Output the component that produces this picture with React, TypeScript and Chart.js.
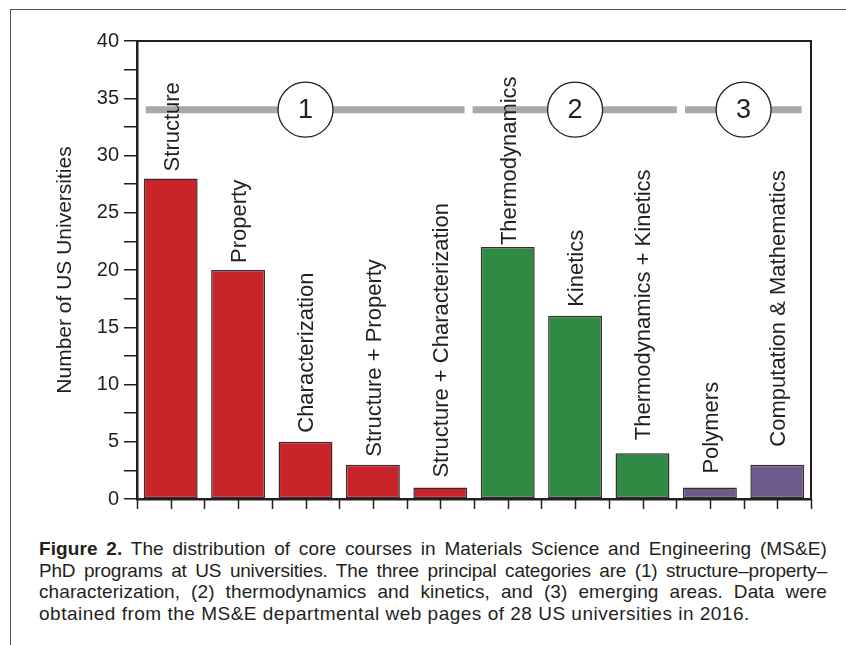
import React, { useEffect, useRef } from 'react';
import { Chart, registerables } from 'chart.js';

Chart.register(...registerables);

// ---- data ----
const categories = [
  'Structure',
  'Property',
  'Characterization',
  'Structure + Property',
  'Structure + Characterization',
  'Thermodynamics',
  'Kinetics',
  'Thermodynamics + Kinetics',
  'Polymers',
  'Computation & Mathematics',
];
const counts = [28, 20, 5, 3, 1, 22, 16, 4, 1, 3];
const groupOfCategory = [0, 0, 0, 0, 0, 1, 1, 1, 2, 2];
const groupNames = ['1', '2', '3'];
const groupFrom = [-0.37, 4.48, 7.63];
const groupTo = [4.36, 7.51, 9.36];
const groupMarkAt = [2, 6, 8.5];
const groupLevel = 34;
const yMin = 0;
const yMax = 40;
const yLabelStep = 5;
const yTickStep = 2.5;
const yTitle = 'Number of US Universities';

const captionBold = 'Figure 2.';
const captionLines = [
  ' The distribution of core courses in Materials Science and Engineering (MS&E)',
  'PhD programs  at US universities. The three principal categories are (1) structure\u2013property\u2013',
  'characterization, (2) thermodynamics and kinetics, and (3) emerging areas. Data were',
  'obtained from the MS&E departmental web pages of 28 US universities in 2016.',
];

// ---- styles ----
const FONT = '"Liberation Sans", Arial, Helvetica, sans-serif';
const groupColors = ['#c9242a', '#2f8b43', '#6c5c8b'];
const labelGaps = [7, 7, 9, 8, 10, 2, 9, 13, 14, 18];
const captionSpacing = [0.1, -0.2, 0.1, 0.5];
const INK = '#231f20';

const overlayPlugin = {
  id: 'overlay',
  afterDatasetsDraw(chart: any) {
    const { ctx, chartArea } = chart;
    const xs = chart.scales.x;
    const ys = chart.scales.y;
    ctx.save();
    // plot frame (top + right)
    ctx.strokeStyle = INK;
    ctx.lineWidth = 2;
    ctx.beginPath();
    ctx.moveTo(chartArea.left, chartArea.top);
    ctx.lineTo(chartArea.right, chartArea.top);
    ctx.lineTo(chartArea.right, chartArea.bottom);
    ctx.stroke();

    // group bars
    const gy = ys.getPixelForValue(groupLevel);
    ctx.strokeStyle = '#a7a9ac';
    ctx.lineWidth = 7;
    ctx.lineCap = 'butt';
    groupNames.forEach((_, g) => {
      ctx.beginPath();
      ctx.moveTo(xs.getPixelForValue(groupFrom[g]), gy);
      ctx.lineTo(xs.getPixelForValue(groupTo[g]), gy);
      ctx.stroke();
    });
    // circles
    groupNames.forEach((name, g) => {
      const cx = xs.getPixelForValue(groupMarkAt[g]);
      ctx.beginPath();
      ctx.arc(cx, gy, 27.5, 0, Math.PI * 2);
      ctx.fillStyle = '#ffffff';
      ctx.fill();
      ctx.strokeStyle = INK;
      ctx.lineWidth = 1.3;
      ctx.stroke();
      ctx.fillStyle = INK;
      ctx.font = `27px ${FONT}`;
      ctx.textAlign = 'center';
      ctx.textBaseline = 'middle';
      ctx.fillText(name, cx, gy + 1);
    });

    // rotated bar labels
    const meta = chart.getDatasetMeta(0);
    const fs = 22;
    ctx.font = `${fs}px ${FONT}`;
    ctx.fillStyle = INK;
    ctx.textAlign = 'left';
    ctx.textBaseline = 'alphabetic';
    meta.data.forEach((el: any, i: number) => {
      ctx.save();
      ctx.translate(el.x + 0.36 * fs, el.y - labelGaps[i]);
      ctx.rotate(-Math.PI / 2);
      ctx.fillText(chart.data.labels[i], 0, 0);
      ctx.restore();
    });

    // x ticks at category boundaries and centres
    ctx.strokeStyle = INK;
    ctx.lineWidth = 1.5;
    for (let v = -0.5; v <= categories.length - 0.5 + 1e-9; v += 0.5) {
      const px = Math.round(xs.getPixelForValue(v)) + 0.5;
      ctx.beginPath();
      ctx.moveTo(px, chartArea.bottom);
      ctx.lineTo(px, chartArea.bottom + 10);
      ctx.stroke();
    }
    ctx.restore();
  },
};

function BarChart() {
  const ref = useRef<HTMLCanvasElement | null>(null);
  useEffect(() => {
    if (!ref.current) return;
    const chart = new Chart(ref.current, {
      type: 'bar',
      data: {
        labels: categories,
        datasets: [
          {
            data: counts,
            backgroundColor: counts.map((_, i) => groupColors[groupOfCategory[i]]),
            borderColor: '#3a2c2c',
            borderWidth: 1.5,
            borderSkipped: false,
            categoryPercentage: 1,
            barPercentage: 0.8,
          },
        ],
      },
      options: {
        animation: false,
        responsive: false,
        maintainAspectRatio: false,
        layout: { padding: { left: 0, top: 41, right: 35, bottom: 0 } },
        plugins: {
          legend: { display: false },
          tooltip: { enabled: false },
        },
        scales: {
          x: {
            offset: true,
            ticks: { display: false },
            grid: { display: false },
            border: { display: true, color: INK, width: 2.5 },
            afterFit: (s: any) => {
              s.height = 21;
            },
          },
          y: {
            min: yMin,
            max: yMax,
            ticks: {
              stepSize: yTickStep,
              autoSkip: false,
              padding: 5,
              color: INK,
              font: { family: FONT, size: 20 },
              callback: (v: any) => (Number(v) % yLabelStep === 0 ? String(v) : ''),
            },
            grid: {
              drawOnChartArea: false,
              drawTicks: true,
              tickLength: 13,
              color: INK,
              lineWidth: 1.5,
            },
            border: { display: true, color: INK, width: 2.5 },
            title: {
              display: true,
              text: yTitle,
              color: INK,
              font: { family: FONT, size: 21 },
              padding: { top: 53, bottom: 0 },
            },
            afterFit: (s: any) => {
              s.width = 137;
            },
          },
        },
      },
      plugins: [overlayPlugin],
    } as any);
    return () => chart.destroy();
  }, []);
  return (
    <canvas
      ref={ref}
      width={846}
      height={520}
      style={{ position: 'absolute', left: 0, top: 0, width: 846, height: 520 }}
    />
  );
}

export default function App() {
  const lineStyle = (i: number, last: boolean): React.CSSProperties => ({
    whiteSpace: 'nowrap',
    textAlign: last ? 'left' : 'justify',
    textAlignLast: (last ? 'left' : 'justify') as any,
    letterSpacing: `${captionSpacing[i]}px`,
    height: 21.5,
  });
  return (
    <div
      style={{
        position: 'absolute',
        left: 0,
        top: 0,
        width: 846,
        height: 645,
        background: '#fff',
        overflow: 'hidden',
      }}
    >
      <div
        style={{
          position: 'absolute',
          left: 10,
          top: 9,
          width: 846,
          height: 645,
          borderTop: '1.3px solid #555',
          borderLeft: '1.3px solid #555',
        }}
      />
      <BarChart />
      <div
        style={{
          position: 'absolute',
          left: 39,
          top: 538,
          width: 788,
          fontFamily: FONT,
          fontSize: 19,
          lineHeight: '21.5px',
          color: INK,
        }}
      >
        <div style={lineStyle(0, false)}>
          <b>{captionBold}</b>
          {captionLines[0]}
        </div>
        <div style={lineStyle(1, false)}>{captionLines[1]}</div>
        <div style={lineStyle(2, false)}>{captionLines[2]}</div>
        <div style={lineStyle(3, true)}>{captionLines[3]}</div>
      </div>
    </div>
  );
}
